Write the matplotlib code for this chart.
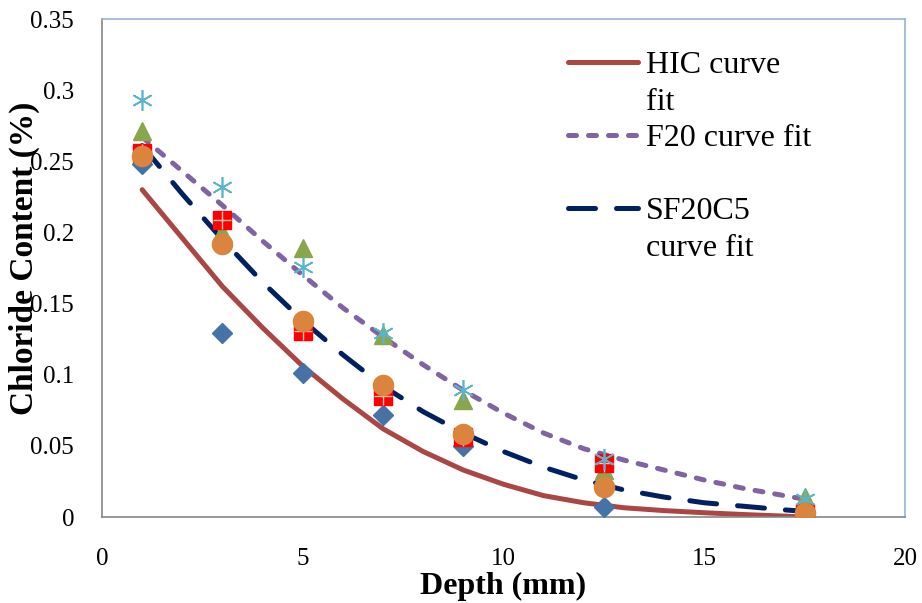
import matplotlib
matplotlib.use("Agg")
import matplotlib.pyplot as plt
from matplotlib.legend_handler import HandlerLine2D

# ---- data ----
depth = [1, 3, 5, 7, 9, 12.5, 17.5]
hic_data = [0.248, 0.129, 0.101, 0.072, 0.050, 0.007, 0.001]
sq_data = [0.256, 0.209, 0.131, 0.085, 0.056, 0.038, 0.003]
tri_data = [0.271, 0.200, 0.189, 0.128, 0.082, 0.033, 0.014]
ast_data = [0.293, 0.232, 0.176, 0.129, 0.089, 0.041, 0.013]
circ_data = [0.254, 0.192, 0.138, 0.093, 0.058, 0.021, 0.003]

fit_x = [1, 2, 3, 4, 5, 6, 7, 8, 9, 10, 11, 12, 13, 14, 15, 16, 17, 17.5]
hic_fit = [0.230, 0.196, 0.162, 0.133, 0.106, 0.083, 0.062, 0.046, 0.033, 0.023,
           0.015, 0.010, 0.0065, 0.0045, 0.003, 0.0017, 0.0006, 0.0]
f20_fit = [0.267, 0.243, 0.219, 0.194, 0.170, 0.147, 0.1265, 0.107, 0.089, 0.073,
           0.059, 0.048, 0.040, 0.033, 0.026, 0.020, 0.015, 0.0125]
sf_fit = [0.261, 0.227, 0.195, 0.165, 0.138, 0.114, 0.092, 0.074, 0.059, 0.046,
          0.035, 0.026, 0.019, 0.014, 0.010, 0.0075, 0.005, 0.004]

labels = ["HIC curve\nfit", "F20 curve fit\n ", "SF20C5\ncurve fit"]
xticks = [0, 5, 10, 15, 20]
yticks = [0, 0.05, 0.1, 0.15, 0.2, 0.25, 0.3, 0.35]
ytick_labels = ["0", "0.05", "0.1", "0.15", "0.2", "0.25", "0.3", "0.35"]

plt.rcParams['font.family'] = ['Liberation Serif', 'DejaVu Serif']

fig = plt.figure(figsize=(9.22, 6.03), dpi=100)
ax = fig.add_axes([102/922, 1-517/603, 803/922, 498/603])

# fit lines
l1, = ax.plot(fit_x, hic_fit, color='#AA4643', lw=3.6, solid_capstyle='round', zorder=2)
l2, = ax.plot(fit_x, f20_fit, color='#8064A2', lw=3.6, dash_capstyle='round',
              dashes=(1.6, 2.4), zorder=2)
l3, = ax.plot(fit_x, sf_fit, color='#002060', lw=3.6, dash_capstyle='round',
              dashes=(5.4, 4.2), zorder=2)

# data markers
ax.plot(depth, hic_data, ls='none', marker='D', ms=10, color='#4572A7', mec='#4572A7', zorder=3)
ax.plot(depth, tri_data, ls='none', marker='^', ms=13.5, color='#89A54E', mec='#89A54E', zorder=3.1)
ax.plot(depth, sq_data, ls='none', marker='s', ms=12.5, color='#FF0000', mec='#FF0000', zorder=3.2)
ax.plot(depth, sq_data, ls='none', marker='+', ms=12.5, mew=1.0, color='#F7C8B8', zorder=3.25)
ax.plot(depth, ast_data, ls='none', marker=(6, 2, 0), ms=15, mew=1.2, color='#5BB4CC', zorder=3.3)
ax.plot(depth, circ_data, ls='none', marker='o', ms=14.5, color='#DB843D', mec='#DB843D', zorder=3.4)

ax.set_xlim(0, 20)
ax.set_ylim(0, 0.35)
ax.set_xticks(xticks)
ax.set_xticklabels([str(t) for t in xticks])
ax.set_yticks(yticks)
ax.set_yticklabels(ytick_labels)
ax.tick_params(axis='both', length=0, labelsize=18)
ax.tick_params(axis='y', pad=20)
ax.tick_params(axis='x', pad=22)

for side in ['left', 'bottom']:
    ax.spines[side].set_color('#868686')
    ax.spines[side].set_linewidth(1.2)
for side in ['top', 'right']:
    ax.spines[side].set_color('#95B3D7')
    ax.spines[side].set_linewidth(1.2)

ax.set_xlabel("Depth (mm)", fontsize=23, fontweight='bold')
ax.set_ylabel("Chloride Content (%)", fontsize=24, fontweight='bold')
ax.xaxis.set_label_coords(0.5, -0.11)
ax.yaxis.set_label_coords(-0.077, 0.52)


class ShiftHandler(HandlerLine2D):
    def __init__(self, shift, **kw):
        super().__init__(**kw)
        self.shift = shift

    def create_artists(self, legend, orig_handle, xdescent, ydescent, width, height,
                       fontsize, trans):
        return super().create_artists(legend, orig_handle, xdescent,
                                      ydescent - 2 * self.shift * fontsize,
                                      width, height, fontsize, trans)


fs = 23
hmap = {h: ShiftHandler(0.68) for h in (l1, l2, l3)}
leg = ax.legend([l1, l2, l3], labels, loc='upper left', bbox_to_anchor=(0.58, 0.936),
                frameon=False, fontsize=fs, handlelength=2.2, handletextpad=0.25,
                borderpad=0, borderaxespad=0, labelspacing=0.22, handler_map=hmap)
for t in leg.get_texts():
    t.set_linespacing(1.37)

fig.savefig("out.png", dpi=100)
